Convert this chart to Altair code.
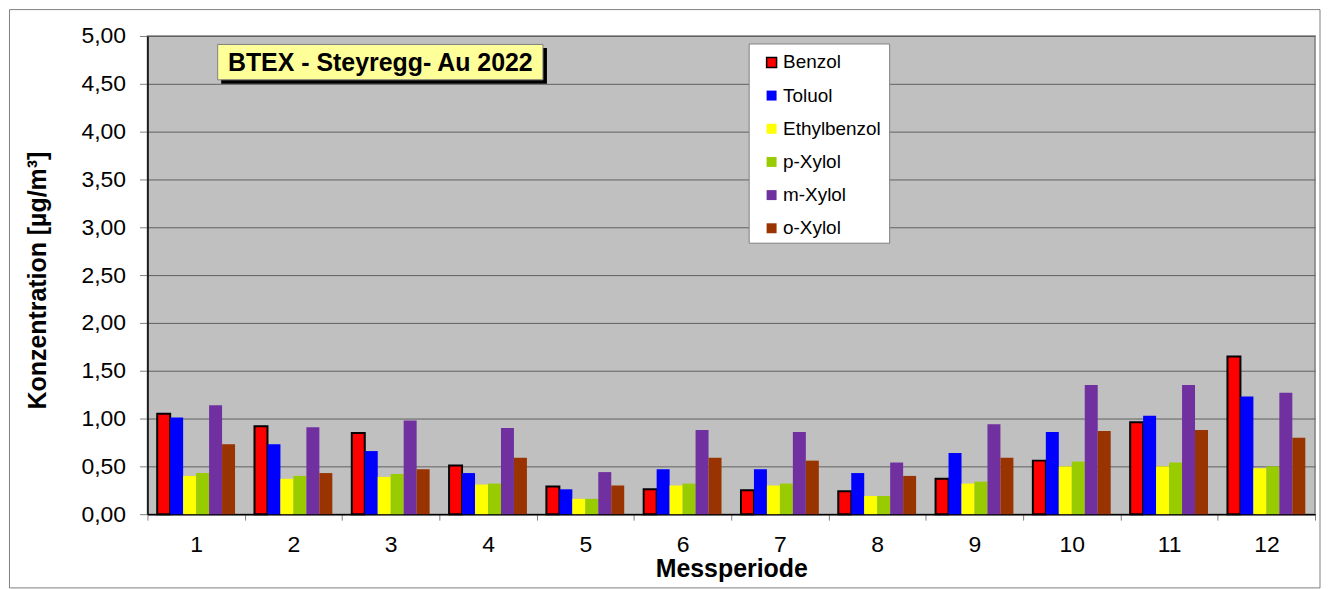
import altair as alt
import pandas as pd

FONT = "Liberation Sans"

perioden = [str(i) for i in range(1, 13)]
stoffe = ["Benzol", "Toluol", "Ethylbenzol", "p-Xylol", "m-Xylol", "o-Xylol"]
farben = ["#FF0000", "#0000FF", "#FFFF00", "#99CC00", "#7030A0", "#993300"]

benzol = [1.05, 0.92, 0.85, 0.51, 0.29, 0.26, 0.25, 0.24, 0.37, 0.56, 0.96, 1.65]
toluol = [1.01, 0.73, 0.66, 0.43, 0.26, 0.47, 0.47, 0.43, 0.64, 0.86, 1.03, 1.23]
ethylbenzol = [0.40, 0.37, 0.39, 0.31, 0.16, 0.30, 0.30, 0.19, 0.32, 0.50, 0.50, 0.48]
p_xylol = [0.43, 0.40, 0.42, 0.32, 0.16, 0.32, 0.32, 0.19, 0.34, 0.55, 0.54, 0.50]
m_xylol = [1.14, 0.91, 0.98, 0.90, 0.44, 0.88, 0.86, 0.54, 0.94, 1.35, 1.35, 1.27]
o_xylol = [0.73, 0.43, 0.47, 0.59, 0.30, 0.59, 0.56, 0.40, 0.59, 0.87, 0.88, 0.80]

y_ticks = [0, 0.5, 1.0, 1.5, 2.0, 2.5, 3.0, 3.5, 4.0, 4.5, 5.0]
titel = "BTEX - Steyregg- Au 2022"

series = [benzol, toluol, ethylbenzol, p_xylol, m_xylol, o_xylol]
rows = []
for stoff, werte in zip(stoffe, series):
    for p, v in zip(perioden, werte):
        rows.append({"Messperiode": p, "Stoff": stoff, "Konzentration": v})
df = pd.DataFrame(rows)

leg = alt.Legend(
    title=None, orient="none", legendX=617, legendY=17, padding=0,
    labelFont=FONT, labelFontSize=19, labelColor="black", labelLimit=300,
    symbolType="square", symbolSize=100, symbolStrokeWidth=1.5,
    rowPadding=13.3, labelOffset=2, symbolOpacity=1,
)

bars = alt.Chart(df).mark_bar(strokeWidth=2, opacity=1).encode(
    x=alt.X("Messperiode:N", sort=perioden,
            scale=alt.Scale(paddingInner=0, paddingOuter=0),
            axis=alt.Axis(title="Messperiode", labelAngle=0, tickBand="extent",
                          labelFont=FONT, labelFontSize=23, labelColor="black",
                          labelPadding=13, tickSize=6, tickColor="#808080",
                          domainColor="black", domainWidth=1.5,
                          titleFont=FONT, titleFontSize=25, titleFontWeight="bold",
                          titleColor="black", titleY=43, titleBaseline="top")),
    xOffset=alt.XOffset("Stoff:N", sort=stoffe,
                        scale=alt.Scale(domain=stoffe, paddingInner=0, paddingOuter=0.75)),
    y=alt.Y("Konzentration:Q",
            scale=alt.Scale(domain=[0, 5], nice=False),
            axis=alt.Axis(title="Konzentration [µg/m³]", values=y_ticks,
                          labelExpr="replace(format(datum.value, '.2f'), '.', ',')",
                          labelFont=FONT, labelFontSize=23, labelColor="black",
                          labelPadding=14, tickSize=8, tickColor="#808080",
                          domainColor="black", domainWidth=1.5,
                          grid=True, gridColor="#606060", gridWidth=1,
                          titleFont=FONT, titleFontSize=25, titleFontWeight="bold",
                          titleColor="black", titleX=-110, titleY=245,
                          titleBaseline="middle", titleAlign="center")),
    fill=alt.Fill("Stoff:N", sort=stoffe,
                  scale=alt.Scale(domain=stoffe, range=farben), legend=leg),
    stroke=alt.Stroke("Stoff:N", sort=stoffe,
                      scale=alt.Scale(domain=stoffe,
                                      range=["#000000"] + ["transparent"] * 5),
                      legend=leg),
)

anno = pd.DataFrame({"t": [titel]})

outer = alt.Chart(anno).mark_rect(fillOpacity=0, stroke="#808080", strokeWidth=1).encode(
    x=alt.value(-138.5), x2=alt.value(1177), y=alt.value(-26.5), y2=alt.value(554))

legend_box = alt.Chart(anno).mark_rect(fill="white", stroke="#808080", strokeWidth=1).encode(
    x=alt.value(604), x2=alt.value(745), y=alt.value(8), y2=alt.value(208))

shadow = alt.Chart(anno).mark_rect(fill="black").encode(
    x=alt.value(74), x2=alt.value(401), y=alt.value(12), y2=alt.value(48))

title_box = alt.Chart(anno).mark_rect(fill="#FFFF99", stroke="#808080", strokeWidth=1).encode(
    x=alt.value(70.5), x2=alt.value(397), y=alt.value(8.5), y2=alt.value(44))

title_text = alt.Chart(anno).mark_text(
    font=FONT, fontSize=25, fontWeight="bold", color="black",
    align="center", baseline="middle").encode(
    x=alt.value(233.7), y=alt.value(27), text="t:N")

chart = alt.layer(outer, bars, legend_box, shadow, title_box, title_text).properties(
    width=1172, height=480,
    autosize=alt.AutoSizeParams(type="none"),
    padding={"left": 140, "top": 27, "right": 6, "bottom": 74},
    background="white",
).configure_view(
    fill="#C0C0C0", stroke="#808080", strokeWidth=1.5
)

chart.save("out.html", embed_options={"renderer": "svg", "actions": False})
